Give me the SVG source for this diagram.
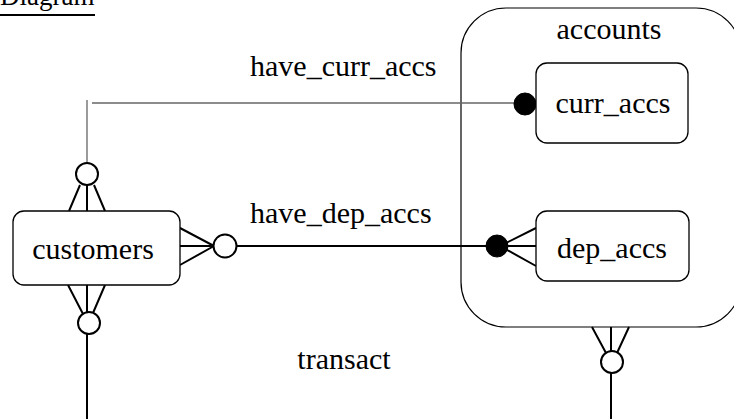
<svg xmlns="http://www.w3.org/2000/svg" width="734" height="419" viewBox="0 0 734 419">
<style>
.box{fill:#fff;stroke:#000;stroke-width:1.3}
.big{fill:#fff;stroke:#000;stroke-width:1.2}
.l{fill:none;stroke:#000;stroke-width:2}
.thin{fill:none;stroke:#666;stroke-width:1.3}
.o{fill:#fff;stroke:#000;stroke-width:2}
.dot{fill:#000;stroke:#000;stroke-width:1}
</style>
<rect width="734" height="419" fill="#fff"/>
<g font-family="Liberation Serif, Tinos, DejaVu Serif, Times New Roman, Times, serif" font-size="30" fill="#000">
<g id="title">
<text x="0" y="5" font-size="27">Diagram</text>
<line x1="0" y1="15" x2="95" y2="15" stroke="#000" stroke-width="2"/>
</g>
<g id="accounts">
<rect class="big" x="461" y="8" width="280" height="319" rx="45" ry="45"/>
<text x="609" y="39" text-anchor="middle">accounts</text>
</g>
<g id="connectors">
<line class="thin" x1="87" y1="100" x2="87" y2="163"/>
<line class="thin" x1="92" y1="103" x2="515" y2="103"/>
<circle class="o" cx="87" cy="174" r="11"/>
<path class="l" d="M69 211L80 185M87 211V185M105 211L94 185"/>
<circle class="dot" cx="525" cy="104" r="11"/>
<path class="l" d="M180 228L214 246M180 246H214M180 265L214 246"/>
<circle class="o" cx="225" cy="246" r="11.5"/>
<line class="l" x1="236.5" y1="246" x2="490" y2="246"/>
<path class="l" d="M536 228L500 246M536 246H500M536 266L500 246"/>
<circle class="dot" cx="497" cy="246" r="11"/>
<path class="l" d="M68 285L83 314M87 285V313M105 285L93 313"/>
<circle class="o" cx="89" cy="323" r="11"/>
<line class="l" x1="87" y1="334" x2="87" y2="419"/>
<path class="l" d="M592 327L606 353M611 327V352M629 327L617 353"/>
<circle class="o" cx="612" cy="362" r="11"/>
<line class="l" x1="611" y1="373" x2="611" y2="419"/>
</g>
<g id="customers">
<rect class="box" x="13" y="211" width="167" height="74" rx="11" ry="11" stroke-width="2"/>
<text x="93" y="259" text-anchor="middle">customers</text>
</g>
<g id="curr_accs">
<rect class="box" x="536" y="63" width="152" height="80" rx="11" ry="11"/>
<text x="613" y="113" text-anchor="middle">curr_accs</text>
</g>
<g id="dep_accs">
<rect class="box" x="536" y="211" width="153" height="70" rx="11" ry="11"/>
<text x="612" y="258" text-anchor="middle">dep_accs</text>
</g>
<g id="labels">
<text x="250" y="76">have_curr_accs</text>
<text x="250" y="223">have_dep_accs</text>
<text x="344" y="369" text-anchor="middle">transact</text>
</g>
</g>
</svg>
